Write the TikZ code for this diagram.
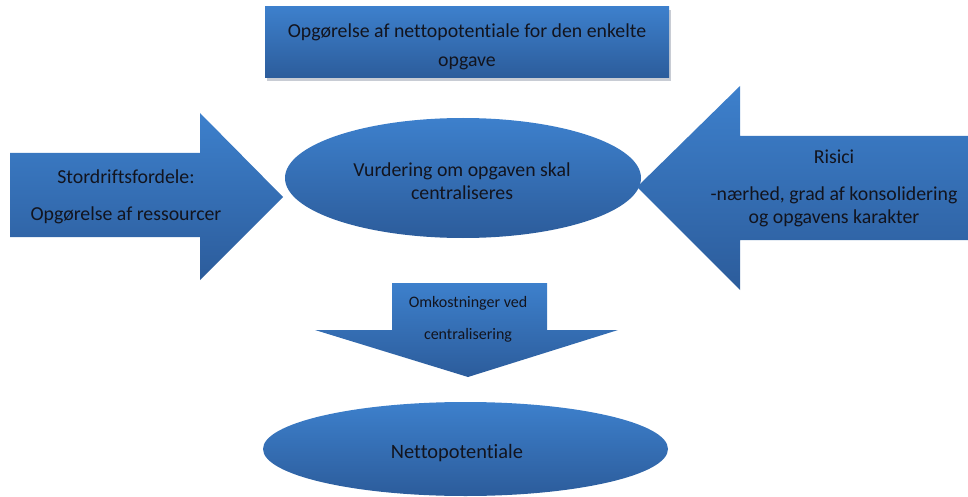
\documentclass[tikz,border=0pt]{standalone}
\usepackage{fontspec}
\setmainfont{Carlito}[Ligatures={NoCommon}]
\definecolor{fillTop}{RGB}{61,128,204}
\definecolor{fillBot}{RGB}{44,92,155}
\definecolor{ink}{RGB}{18,20,30}
\definecolor{shadowgray}{RGB}{200,204,212}
\begin{document}
\begin{tikzpicture}[x=1pt,y=-1pt,
  blueshade/.style={top color=fillTop, bottom color=fillBot, draw=none},
  lbl/.style={text=ink, align=center, inner sep=0pt,
    font=\fontsize{19.8}{23}\selectfont},
  lblsmall/.style={text=ink, align=center, inner sep=0pt,
    font=\fontsize{16}{32}\selectfont}]
\useasboundingbox (0,0) rectangle (968,497);

% heading box with a soft drop shadow
\fill[shadowgray] (267,10) rectangle (671,81);
\shade[blueshade] (265,7) rectangle (669,78);
\node[lbl, font=\fontsize{19.8}{29}\selectfont] (title) at (467,46.5)
  {Opgørelse af nettopotentiale for den enkelte\\opgave};

% central decision ellipse
\shade[blueshade] (463,178) ellipse [x radius=178, y radius=60];
\node[lbl] (decision) at (462,181.5) {Vurdering om opgaven skal\\centraliseres};

% left arrow: economies of scale
\shade[blueshade] (10,153) -- (200,153) -- (200,113) -- (283,197)
  -- (200,280) -- (200,237) -- (10,237) -- cycle;
\node[lbl, font=\fontsize{19.8}{37}\selectfont] (scale) at (126,196.5)
  {Stordriftsfordele:\\Opgørelse af ressourcer};

% right arrow: risks
\shade[blueshade] (968,136) -- (740,136) -- (740,86) -- (637,187)
  -- (740,290) -- (740,240) -- (968,240) -- cycle;
\node[lbl] (risk) at (834,188)
  {Risici\\[14pt]-nærhed, grad af konsolidering\\og opgavens karakter};

% downward arrow: costs
\shade[blueshade] (392,283) -- (547,283) -- (547,330) -- (618,330)
  -- (468,377) -- (315,330) -- (392,330) -- cycle;
\node[lblsmall] (costs) at (468,319) {Omkostninger ved\\centralisering};

% result ellipse
\shade[blueshade] (465.5,449) ellipse [x radius=202.5, y radius=47];
\node[lbl, font=\fontsize{20.4}{23}\selectfont] (net) at (457,453) {Nettopotentiale};
\end{tikzpicture}
\end{document}
